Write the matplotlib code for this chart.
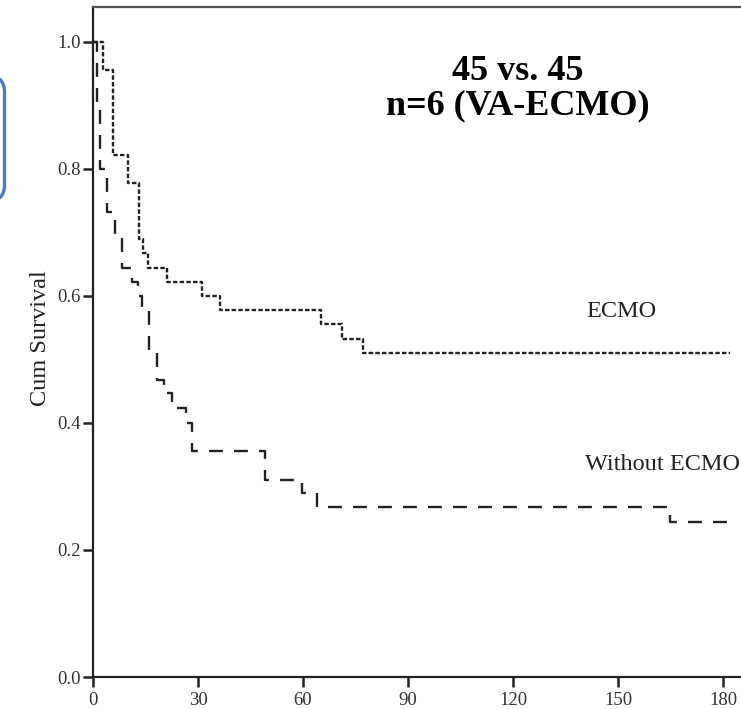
import numpy as np
import matplotlib
matplotlib.use("Agg")
import matplotlib.pyplot as plt
from matplotlib.patches import FancyBboxPatch
from matplotlib.transforms import IdentityTransform

# Kaplan-Meier steps (day of step, survival after step)
ecmo_days = [0, 2.9, 5.7, 10.0, 13.1, 14.2, 15.8, 21.2, 31.0, 36.3, 65.0, 71.0, 77.2, 182]
ecmo_surv = [1.0, 0.956, 0.822, 0.778, 0.689, 0.667, 0.644, 0.622, 0.600, 0.578, 0.556, 0.533, 0.511, 0.511]

noecmo_days = [0, 1.0, 2.0, 4.0, 6.3, 8.2, 11.0, 12.9, 14.0, 16.0, 18.3, 20.3, 22.6, 26.6,
               28.3, 49.1, 59.7, 64.0, 164.9, 182]
noecmo_surv = [1.0, 0.90, 0.80, 0.733, 0.689, 0.644, 0.622, 0.600, 0.578, 0.511, 0.467, 0.447,
               0.424, 0.400, 0.356, 0.311, 0.289, 0.267, 0.244, 0.244]

x_ticks = [0, 30, 60, 90, 120, 150, 180]
y_ticks = [0.0, 0.2, 0.4, 0.6, 0.8, 1.0]

plt.rcParams['font.family'] = ['Liberation Serif', 'DejaVu Serif']
plt.rcParams['lines.scale_dashes'] = False

fig = plt.figure(figsize=(7.41, 7.09), dpi=100)
W, H = 741, 709
# axes in pixels: x0=93, y(0)=677, top=7 ; 3.5 px per day, xlim 0..190 (right edge off canvas)
ax = fig.add_axes([93 / W, (H - 677) / H, 190 * 3.5 / W, 670 / H])

ax.step(ecmo_days, ecmo_surv, where='post', color='#222222', lw=1.7,
        linestyle=(0, (3.2, 1.6)))
ax.step(noecmo_days, noecmo_surv, where='post', color='#222222', lw=1.7,
        linestyle=(0, (10, 8)))

ax.set_xlim(0, 190)
ax.set_ylim(0, 1.0551)
ax.set_xticks(x_ticks)
ax.set_yticks(y_ticks)
ax.set_yticklabels([f"{v:.1f}" for v in y_ticks])

for s in ['left', 'bottom']:
    ax.spines[s].set_linewidth(1.6)
    ax.spines[s].set_color('#222222')
ax.spines['top'].set_linewidth(1.6)
ax.spines['top'].set_color('#555555')
ax.spines['right'].set_visible(False)

ax.tick_params(axis='both', direction='out', length=7.5, width=1.8, color='#222222',
               labelsize=13.5, labelcolor='#333333')
ax.tick_params(axis='y', pad=1.5)
ax.tick_params(axis='x', pad=3)

# curve labels
ax.text(151, 0.576, 'ECMO', fontsize=17.5, color='#222222', ha='center', va='center')
ax.text(140.5, 0.334, 'Without ECMO', fontsize=17.5, color='#222222', ha='left', va='center')

# title block
fig.text(518 / W, 1 - 72 / H, '45 vs. 45', fontsize=26, fontweight='bold',
         ha='center', va='center')
fig.text(518 / W, 1 - 106 / H, 'n=6 (VA-ECMO)', fontsize=26, fontweight='bold',
         ha='center', va='center')

fig.text(40 / W, 1 - 338 / H, 'Cum Survival', fontsize=17.5, color='#222222',
         rotation=90, ha='center', va='center')

# blue rounded box cut by the left edge
box = FancyBboxPatch((-120, H - 201), 124.5, 125, boxstyle='round,pad=0,rounding_size=16',
                     transform=IdentityTransform(), fill=False, edgecolor='#4A7EBB', lw=2.4)
fig.patches.append(box)

fig.savefig('out.png', dpi=100)
